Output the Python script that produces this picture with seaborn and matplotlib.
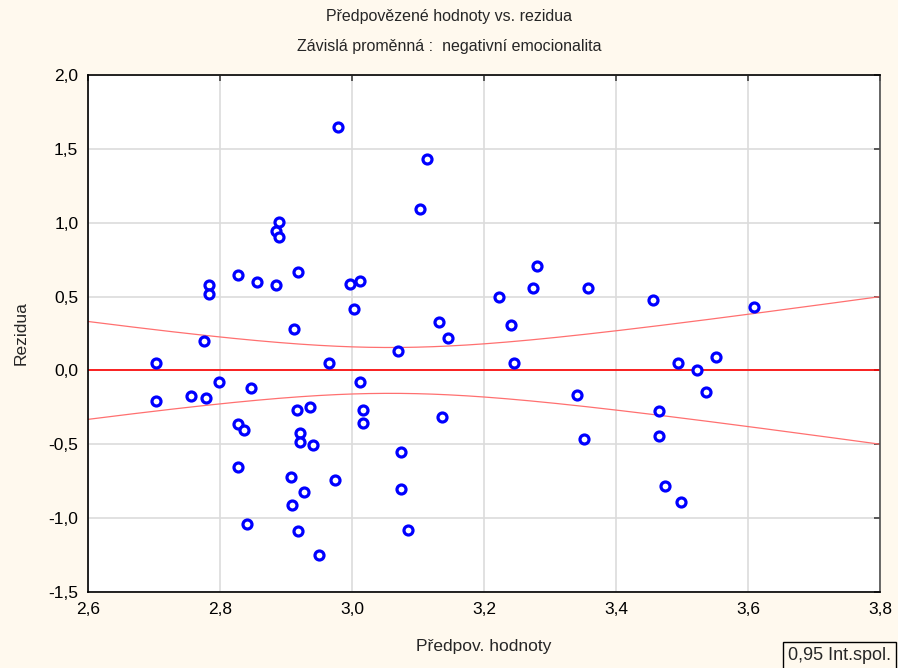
import numpy as np
import pandas as pd
import matplotlib
matplotlib.use("Agg")
import matplotlib.pyplot as plt
from matplotlib.ticker import FuncFormatter
import seaborn as sns

# Predicted values of the model and their residuals
predicted = [
    2.703, 2.703, 2.756, 2.776, 2.779, 2.784, 2.784, 2.798, 2.827, 2.827,
    2.827, 2.836, 2.841, 2.847, 2.856, 2.885, 2.885, 2.889, 2.889, 2.908,
    2.909, 2.912, 2.917, 2.918, 2.918, 2.921, 2.921, 2.927, 2.936, 2.941,
    2.950, 2.965, 2.974, 2.979, 2.997, 3.003, 3.012, 3.012, 3.017, 3.017,
    3.070, 3.074, 3.074, 3.085, 3.103, 3.114, 3.132, 3.136, 3.145, 3.223,
    3.241, 3.245, 3.274, 3.280, 3.341, 3.352, 3.358, 3.456, 3.465, 3.465,
    3.474, 3.494, 3.498, 3.523, 3.536, 3.552, 3.609,
]
residuals = [
    0.047, -0.210, -0.170, 0.196, -0.190, 0.575, 0.515, -0.080, -0.360, 0.643,
    -0.657, -0.400, -1.043, -0.122, 0.596, 0.575, 0.941, 1.002, 0.900, -0.724,
    -0.914, 0.278, -0.271, -1.090, 0.663, -0.427, -0.487, -0.826, -0.250, -0.508,
    -1.253, 0.047, -0.745, 1.645, 0.582, 0.413, 0.603, -0.081, -0.271, -0.359,
    0.129, -0.555, -0.806, -1.083, 1.090, 1.429, 0.325, -0.318, 0.217, 0.494,
    0.305, 0.047, 0.555, 0.704, -0.169, -0.467, 0.555, 0.474, -0.278, -0.447,
    -0.785, 0.047, -0.894, 0.000, -0.149, 0.088, 0.427,
]

x_ticks = [2.6, 2.8, 3.0, 3.2, 3.4, 3.6, 3.8]
y_ticks = [-1.5, -1.0, -0.5, 0.0, 0.5, 1.0, 1.5, 2.0]

title_text = "Předpovězené hodnoty vs. rezidua"
subtitle_text = "Závislá proměnná :  negativní emocionalita"
x_label = "Předpov. hodnoty"
y_label = "Rezidua"
band_label = "0,95 Int.spol."

df = pd.DataFrame({"pred": predicted, "resid": residuals})

sns.set_style("white")
plt.rcParams["font.family"] = ["Liberation Sans", "DejaVu Sans"]

bg = "#FFF9EE"
fig = plt.figure(figsize=(8.98, 6.68), dpi=100, facecolor=bg)
ax = fig.add_axes([0.098, 0.1138, 0.882, 0.7739])
ax.set_facecolor("white")

# Regression of residuals on predicted values: zero line with 95 % confidence band
x = df["pred"].to_numpy()
e = df["resid"].to_numpy()
n = len(x)
xbar = x.mean()
sxx = ((x - xbar) ** 2).sum()
s = np.sqrt((e ** 2).sum() / (n - 2))
t = 1.9971  # t(0.975, df=65)
xs = np.linspace(2.6, 3.8, 300)
half = t * s * np.sqrt(1.0 / n + (xs - xbar) ** 2 / sxx)

ax.plot(xs, half, color="#FF7070", lw=0.9, zorder=2)
ax.plot(xs, -half, color="#FF7070", lw=0.9, zorder=2)
ax.axhline(0.0, color="#FF0000", lw=1.2, zorder=2)

sns.scatterplot(data=df, x="pred", y="resid", ax=ax, marker="o", s=42,
                facecolor="white", edgecolor="#0000FF", linewidth=2.3,
                zorder=3, legend=False)

ax.set_xlim(2.6, 3.8)
ax.set_ylim(-1.5, 2.0)
ax.set_xticks(x_ticks)
ax.set_yticks(y_ticks)
comma = FuncFormatter(lambda v, p: f"{v:.1f}".replace(".", ","))
ax.xaxis.set_major_formatter(comma)
ax.yaxis.set_major_formatter(comma)
ax.grid(True, color="#DCDCDC", lw=1.2, zorder=0)
ax.set_axisbelow(True)
ax.tick_params(direction="in", length=4, width=1.2, color="#404040",
               top=True, right=True, labelsize=12.5, pad=7, labelcolor="black")
for side in ["left", "bottom", "top"]:
    ax.spines[side].set_color("black")
    ax.spines[side].set_linewidth(1.2)
ax.spines["right"].set_color("#505050")
ax.spines["right"].set_linewidth(1.2)

ax.set_xlabel(x_label, fontsize=12.5, labelpad=16)
ax.set_ylabel(y_label, fontsize=12.5, labelpad=14)

fig.text(0.5, 0.975, title_text, ha="center", va="center", fontsize=11.5)
fig.text(0.5, 0.930, subtitle_text, ha="center", va="center", fontsize=11.5)

fig.text(0.8775, 0.0185, band_label, ha="left", va="center", fontsize=13,
         bbox=dict(boxstyle="square,pad=0.28", facecolor=bg, edgecolor="black", lw=1))

fig.savefig("out.png", dpi=100, facecolor=bg)
